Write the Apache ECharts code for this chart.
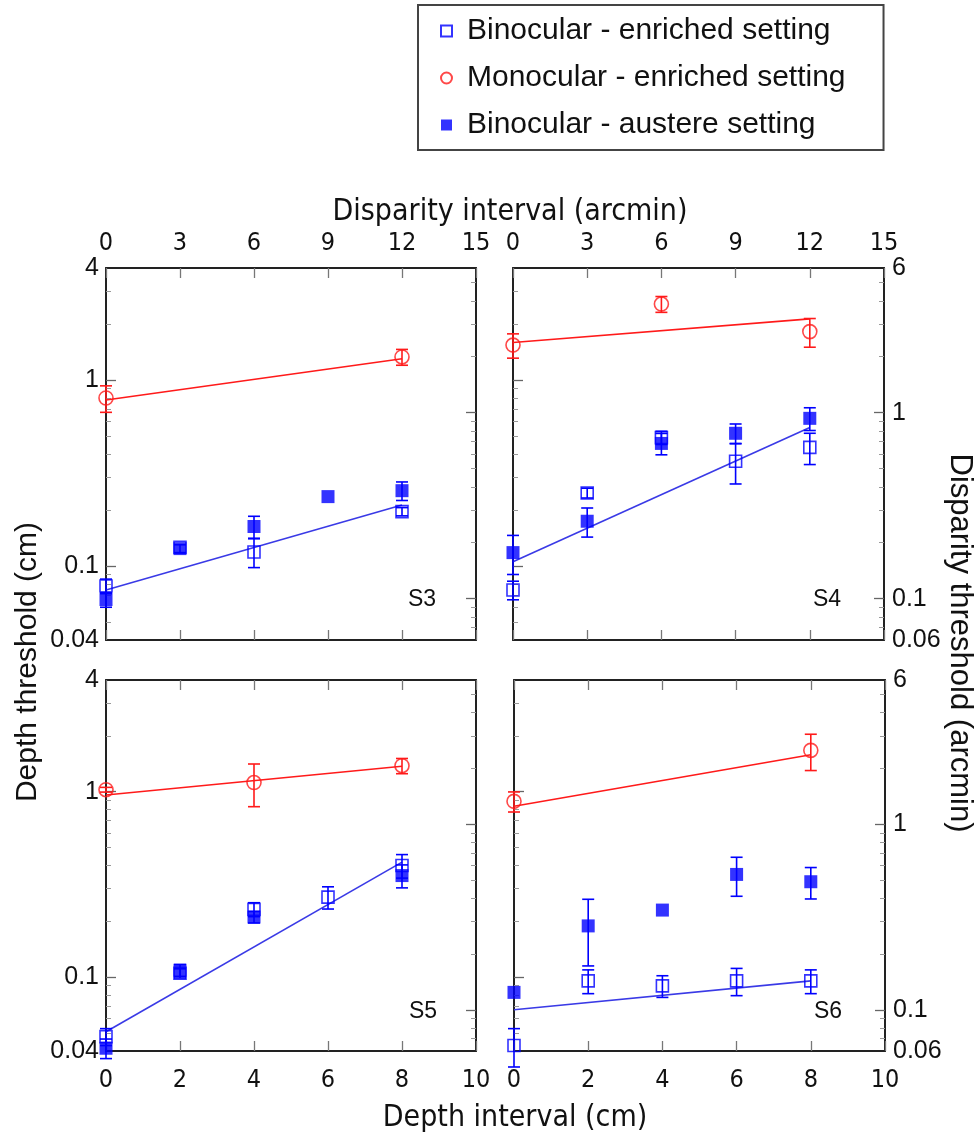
<!DOCTYPE html>
<html>
<head>
<meta charset="utf-8">
<script src="https://cdn.jsdelivr.net/npm/echarts@6/dist/echarts.min.js"></script>
<style>
  html, body { margin: 0; padding: 0; background: #fff; }
  #main { width: 979px; height: 1142px; }
</style>
</head>
<body>
<div id="main"></div>
<script>
// depth interval (cm) of each condition; disparity (arcmin) = 1.5 x depth
var depth = [0, 2, 4, 6, 8];
var fitX = [0, 8];

// S3
var s3EnrVal = [0.078, 0.126, 0.119, null, 0.196];
var s3EnrErr = [0.007, 0, 0.021, null, 0.010];
var s3MonoVal = [0.80, null, null, null, 1.33];
var s3MonoErr = [0.13, null, null, null, 0.13];
var s3AustVal = [0.066, 0.124, 0.163, 0.236, 0.254];
var s3AustErr = [0.006, 0.006, 0.022, 0, 0.029];
var s3MonoFit = [0.78, 1.30];
var s3EnrFit = [0.0743, 0.213];

// S4
var s4EnrVal = [0.0743, 0.247, 0.49, 0.366, 0.434];
var s4EnrErr = [0.0085, 0.015, 0.04, 0.09, 0.083];
var s4MonoVal = [1.54, null, 2.56, null, 1.82];
var s4MonoErr = [0.23, null, 0.25, null, 0.32];
var s4AustVal = [0.118, 0.174, 0.456, 0.517, 0.622];
var s4AustErr = [0.028, 0.031, 0.06, 0.063, 0.087];
var s4MonoFit = [1.59, 2.13];
var s4EnrFit = [0.1055, 0.556];

// S5
var s5EnrVal = [0.0478, 0.105, 0.232, 0.270, 0.40];
var s5EnrErr = [0.005, 0.006, 0.02, 0.037, 0.058];
var s5MonoVal = [1.025, null, 1.12, null, 1.38];
var s5MonoErr = [0.03, null, 0.29, null, 0.13];
var s5AustVal = [0.0414, 0.109, 0.211, null, 0.353];
var s5AustErr = [0.005, 0.008, 0.015, null, 0.05];
var s5MonoFit = [0.959, 1.37];
var s5EnrFit = [0.0508, 0.417];

// S6
var s6EnrVal = [0.0428, 0.0955, 0.0898, 0.0955, 0.0955];
var s6EnrErr = [0.01, 0.014, 0.012, 0.016, 0.014];
var s6MonoVal = [0.887, null, null, null, 1.67];
var s6MonoErr = [0.11, null, null, null, 0.37];
var s6AustVal = [0.0828, 0.189, 0.230, 0.358, 0.327];
var s6AustErr = [0, 0.074, 0, 0.085, 0.063];
var s6MonoFit = [0.834, 1.58];
var s6EnrFit = [0.0667, 0.0955];

// axis ticks
var cmLabels = [0.04, 0.1, 1, 4];
var cmMajor = [0.1, 1];
var cmMinor = [0.05, 0.06, 0.07, 0.08, 0.09, 0.2, 0.3, 0.4, 0.5, 0.6, 0.7, 0.8, 0.9, 2, 3];
var arcLabels = [0.06, 0.1, 1, 6];
var arcMajor = [0.1, 1];
var arcMinor = [0.07, 0.08, 0.09, 0.2, 0.3, 0.4, 0.5, 0.6, 0.7, 0.8, 0.9, 2, 3, 4, 5];

var nameEnr = "Binocular - enriched setting";
var nameMono = "Monocular - enriched setting";
var nameAust = "Binocular - austere setting";

var BLUE = "#0000ff";
var RED = "#ff1a1a";
var FONT = "'Liberation Sans', Arial, Helvetica, sans-serif";
var NARROW = "'Liberation Sans Narrow', 'DejaVu Sans Condensed', 'Liberation Sans', sans-serif";

var panels = [
    { label: "S3", enr: [s3EnrVal, s3EnrErr], mono: [s3MonoVal, s3MonoErr], aust: [s3AustVal, s3AustErr], monoFit: s3MonoFit, enrFit: s3EnrFit },
    { label: "S4", enr: [s4EnrVal, s4EnrErr], mono: [s4MonoVal, s4MonoErr], aust: [s4AustVal, s4AustErr], monoFit: s4MonoFit, enrFit: s4EnrFit },
    { label: "S5", enr: [s5EnrVal, s5EnrErr], mono: [s5MonoVal, s5MonoErr], aust: [s5AustVal, s5AustErr], monoFit: s5MonoFit, enrFit: s5EnrFit },
    { label: "S6", enr: [s6EnrVal, s6EnrErr], mono: [s6MonoVal, s6MonoErr], aust: [s6AustVal, s6AustErr], monoFit: s6MonoFit, enrFit: s6EnrFit }
];

var grids = [
    { left: 106, top: 268, width: 370, height: 372 },
    { left: 513, top: 268, width: 371, height: 372 },
    { left: 106, top: 680, width: 370, height: 371 },
    { left: 514, top: 680, width: 371, height: 371 }
];
var labelPos = [[422, 600], [827, 600], [423, 1012], [828, 1012]];

function points(vals) {
    var out = [];
    vals.forEach(function (v, i) {
        if (v != null) out.push([depth[i], v]);
    });
    return out;
}
function bars(pair) {
    var out = [];
    pair[0].forEach(function (v, i) {
        var e = pair[1][i];
        if (v != null && e) out.push([depth[i], v - e, v + e]);
    });
    return out;
}
function errRender(color) {
    return function (params, api) {
        var lo = api.coord([api.value(0), api.value(1)]);
        var hi = api.coord([api.value(0), api.value(2)]);
        var w = 6;
        var st = { stroke: color, lineWidth: 1.6 };
        return {
            type: "group",
            children: [
                { type: "line", shape: { x1: lo[0], y1: lo[1], x2: hi[0], y2: hi[1] }, style: st },
                { type: "line", shape: { x1: lo[0] - w, y1: lo[1], x2: lo[0] + w, y2: lo[1] }, style: st },
                { type: "line", shape: { x1: hi[0] - w, y1: hi[1], x2: hi[0] + w, y2: hi[1] }, style: st }
            ]
        };
    };
}

var xAxes = [], yAxes = [], series = [], graphics = [];
var axisLine = { show: true, lineStyle: { color: "#222", width: 2 } };

panels.forEach(function (p, i) {
    var isTop = i < 2, isRight = i % 2 === 1;
    // depth axis (bottom)
    xAxes.push({
        gridIndex: i, type: "value", position: "bottom", min: 0, max: 10, interval: 2,
        axisLine: axisLine, splitLine: { show: false },
        axisTick: { show: true, inside: true, length: 10, lineStyle: { color: "#777", width: 1.3 } },
        axisLabel: { show: !isTop, margin: 17, fontSize: 25, color: "#111", fontFamily: NARROW }
    });
    // disparity axis (top)
    xAxes.push({
        gridIndex: i, type: "value", position: "top", min: 0, max: 15, interval: 3,
        axisLine: axisLine, splitLine: { show: false },
        axisTick: { show: true, inside: true, length: 10, lineStyle: { color: "#777", width: 1.3 } },
        axisLabel: { show: isTop, margin: 12, fontSize: 25, color: "#111", fontFamily: NARROW }
    });
    // depth threshold (left), major + minor ticks
    yAxes.push({
        gridIndex: i, type: "log", logBase: 10, position: "left", min: 0.04, max: 4,
        axisLine: axisLine, splitLine: { show: false },
        axisTick: { show: true, inside: true, length: 10, customValues: cmMajor, lineStyle: { color: "#666", width: 1.3 } },
        axisLabel: { show: !isRight, customValues: cmLabels, margin: 7, fontSize: 25, color: "#111", fontFamily: FONT,
            formatter: function (v) { return String(v); } }
    });
    yAxes.push({
        gridIndex: i, type: "log", logBase: 10, position: "left", min: 0.04, max: 4,
        axisLine: { show: false }, splitLine: { show: false }, axisLabel: { show: false },
        axisTick: { show: true, inside: true, length: 5, customValues: cmMinor, lineStyle: { color: "#999", width: 1 } }
    });
    // disparity threshold (right), major + minor ticks
    yAxes.push({
        gridIndex: i, type: "log", logBase: 10, position: "right", min: 0.06, max: 6,
        axisLine: axisLine, splitLine: { show: false },
        axisTick: { show: true, inside: true, length: 10, customValues: arcMajor, lineStyle: { color: "#666", width: 1.3 } },
        axisLabel: { show: isRight, customValues: arcLabels, margin: 8, fontSize: 25, color: "#111", fontFamily: FONT,
            formatter: function (v) { return String(v); } }
    });
    yAxes.push({
        gridIndex: i, type: "log", logBase: 10, position: "right", min: 0.06, max: 6,
        axisLine: { show: false }, splitLine: { show: false }, axisLabel: { show: false },
        axisTick: { show: true, inside: true, length: 5, customValues: arcMinor, lineStyle: { color: "#999", width: 1 } }
    });

    var xi = 2 * i, yi = 4 * i;
    var common = { xAxisIndex: xi, yAxisIndex: yi };

    series.push(Object.assign({
        type: "line", name: "fitMono" + i, data: [[fitX[0], p.monoFit[0]], [fitX[1], p.monoFit[1]]],
        symbol: "none", silent: true, z: 1, lineStyle: { color: RED, width: 1.6 }
    }, common));
    series.push(Object.assign({
        type: "line", name: "fitEnr" + i, data: [[fitX[0], p.enrFit[0]], [fitX[1], p.enrFit[1]]],
        symbol: "none", silent: true, z: 1, lineStyle: { color: "#3a3ae6", width: 1.6 }
    }, common));

    series.push(Object.assign({
        type: "scatter", name: nameEnr, data: points(p.enr[0]), symbol: "rect", symbolSize: 12, clip: false, z: 3,
        itemStyle: { color: "rgba(255,255,255,0)", borderColor: BLUE, borderWidth: 1.6 }
    }, common));
    series.push(Object.assign({
        type: "scatter", name: nameMono, data: points(p.mono[0]), symbol: "circle", symbolSize: 14, clip: false, z: 3,
        itemStyle: { color: "rgba(255,255,255,0)", borderColor: RED, borderWidth: 1.6 }
    }, common));
    series.push(Object.assign({
        type: "scatter", name: nameAust, data: points(p.aust[0]), symbol: "rect", symbolSize: 13, clip: false, z: 4,
        itemStyle: { color: BLUE }
    }, common));

    [[p.enr, BLUE], [p.mono, RED], [p.aust, BLUE]].forEach(function (g, k) {
        series.push(Object.assign({
            type: "custom", name: "err" + i + "_" + k, data: bars(g[0]), clip: false, z: 2, silent: true,
            encode: { x: 0, y: [1, 2] }, renderItem: errRender(g[1])
        }, common));
    });

    graphics.push({
        type: "text", x: labelPos[i][0], y: labelPos[i][1],
        style: { text: p.label, fontSize: 23, fontFamily: FONT, fill: "#111", align: "center", verticalAlign: "middle" }
    });
});

graphics.push({
    type: "text", x: 510, y: 212,
    style: { text: "Disparity interval (arcmin)", fontSize: 30, fontFamily: NARROW, fill: "#111", align: "center", verticalAlign: "middle" }
});
graphics.push({
    type: "text", x: 515, y: 1118,
    style: { text: "Depth interval (cm)", fontSize: 30, fontFamily: NARROW, fill: "#111", align: "center", verticalAlign: "middle" }
});
graphics.push({
    type: "text", x: 28, y: 662, rotation: Math.PI / 2,
    style: { text: "Depth threshold (cm)", fontSize: 30, fontFamily: FONT, fill: "#111", align: "center", verticalAlign: "middle" }
});
graphics.push({
    type: "text", x: 960, y: 643, rotation: -Math.PI / 2,
    style: { text: "Disparity threshold (arcmin)", fontSize: 31, fontFamily: FONT, fill: "#111", align: "center", verticalAlign: "middle" }
});

var chart = echarts.init(document.getElementById("main"), null, { renderer: "canvas" });
chart.setOption({
    backgroundColor: "#fff",
    animation: false,
    grid: grids,
    xAxis: xAxes,
    yAxis: yAxes,
    legend: {
        left: 418, top: 5, orient: "vertical",
        data: [nameEnr, nameMono, nameAust],
        itemWidth: 11, itemHeight: 11, itemGap: 17,
        padding: [11, 38, 10, 22],
        borderColor: "#444", borderWidth: 2,
        selectedMode: false,
        textStyle: { fontSize: 30, color: "#111", fontFamily: FONT, padding: [0, 0, 0, 10] }
    },
    series: series,
    graphic: graphics
});
</script>
</body>
</html>
